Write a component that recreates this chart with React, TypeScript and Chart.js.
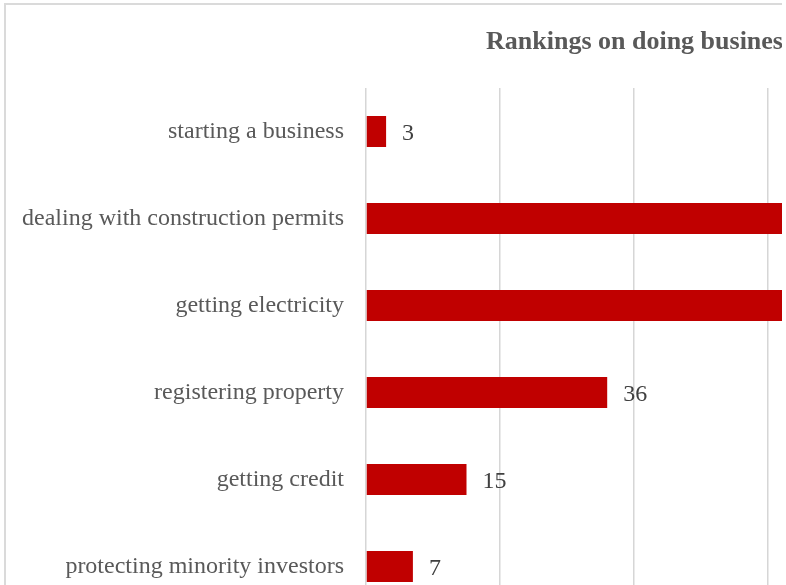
import React, { useEffect, useRef } from 'react';
import { Chart, registerables } from 'chart.js';

Chart.register(...registerables);

const titleText = 'Rankings on doing business';
const categories = [
  'starting a business',
  'dealing with construction permits',
  'getting electricity',
  'registering property',
  'getting credit',
  'protecting minority investors',
  'paying taxes',
  'trading across borders',
  'enforcing contracts',
  'resolving insolvency',
];
const rankings = [3, 64, 124, 36, 15, 7, 19, 51, 100, 13];
const axisMin = 0;
const axisMax = 140;
const axisStep = 20;

const SERIF = "'Liberation Serif', 'Times New Roman', serif";
const CANVAS_W = 1330;
const CANVAS_H = 1000;

const valueLabelPlugin = {
  id: 'valueLabels',
  afterDatasetsDraw(chart: any) {
    const ctx = chart.ctx;
    const meta = chart.getDatasetMeta(0);
    ctx.save();
    ctx.font = `24px ${SERIF}`;
    ctx.fillStyle = '#404040';
    ctx.textAlign = 'left';
    ctx.textBaseline = 'middle';
    meta.data.forEach((bar: any, i: number) => {
      const v = chart.data.datasets[0].data[i];
      ctx.fillText(String(v), bar.x + 16, bar.y + 2);
    });
    ctx.restore();
  },
};

const titlePlugin = {
  id: 'leftTitle',
  afterDraw(chart: any) {
    const ctx = chart.ctx;
    ctx.save();
    ctx.font = `bold 26px ${SERIF}`;
    ctx.fillStyle = '#595959';
    ctx.textAlign = 'left';
    ctx.textBaseline = 'alphabetic';
    ctx.fillText(titleText, 480, 44);
    ctx.restore();
  },
};

export default function App() {
  const ref = useRef<HTMLCanvasElement | null>(null);

  useEffect(() => {
    if (!ref.current) return;
    const chart = new Chart(ref.current, {
      type: 'bar',
      data: {
        labels: categories,
        datasets: [
          {
            data: rankings,
            backgroundColor: '#c00000',
            borderWidth: 0,
            barPercentage: 31 / 87,
            categoryPercentage: 1,
          },
        ],
      },
      options: {
        indexAxis: 'y',
        responsive: false,
        animation: false,
        devicePixelRatio: 1,
        layout: { padding: { top: 83, right: 32, bottom: 47, left: 0 } },
        plugins: {
          legend: { display: false },
          title: { display: false },
          tooltip: { enabled: false },
        },
        scales: {
          x: {
            min: axisMin,
            max: axisMax,
            ticks: { display: false, stepSize: axisStep },
            grid: { color: '#d6d6d6', lineWidth: 1.5, drawTicks: false },
            border: { display: false },
            afterFit(scale: any) {
              scale.height = 0;
            },
          },
          y: {
            grid: { display: false, drawTicks: false },
            border: { display: false },
            ticks: {
              padding: 22,
              color: '#595959',
              font: { family: SERIF, size: 24 },
            },
            afterFit(scale: any) {
              scale.width = 360;
            },
          },
        },
      },
      plugins: [valueLabelPlugin, titlePlugin],
    });
    return () => chart.destroy();
  }, []);

  return (
    <div
      style={{
        position: 'fixed',
        left: 0,
        top: 0,
        width: 786,
        height: 585,
        background: '#ffffff',
      }}
    >
      <div
        style={{
          position: 'absolute',
          left: 0,
          top: 0,
          width: 782,
          height: 585,
          overflow: 'hidden',
        }}
      >
        <div
          style={{
            position: 'absolute',
            left: 4,
            top: 3,
            border: '2px solid #dadada',
            width: CANVAS_W,
            height: CANVAS_H,
            background: '#ffffff',
          }}
        >
          <canvas ref={ref} width={CANVAS_W} height={CANVAS_H} style={{ display: 'block' }} />
        </div>
      </div>
    </div>
  );
}
